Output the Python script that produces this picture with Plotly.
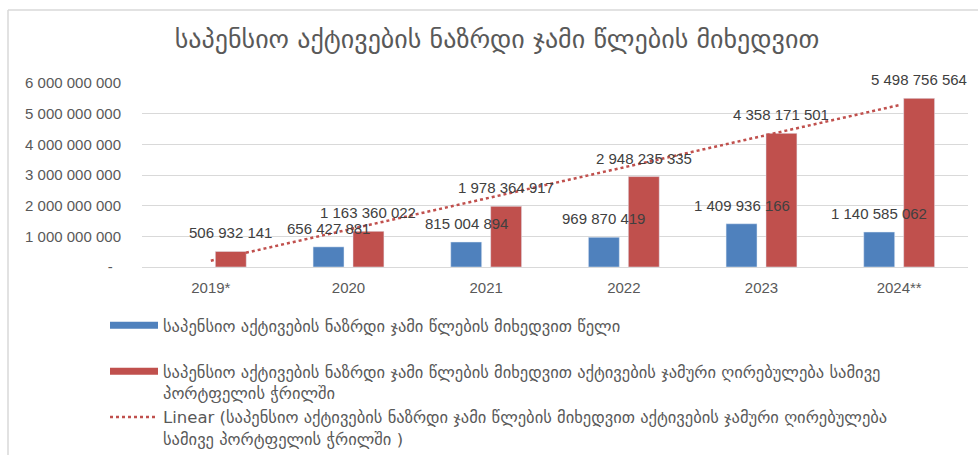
import numpy as np
import plotly.graph_objects as go

categories = ["2019*", "2020", "2021", "2022", "2023", "2024**"]
yearly_growth = [None, 656427881, 815004894, 969870419, 1409936166, 1140585062]
total_value = [506932141, 1163360022, 1978364917, 2948235335, 4358171501, 5498756564]
y_tick_vals = [0, 1e9, 2e9, 3e9, 4e9, 5e9, 6e9]
y_tick_text = ["-\u00a0\u00a0", "1 000 000 000", "2 000 000 000", "3 000 000 000",
               "4 000 000 000", "5 000 000 000", "6 000 000 000"]

title_text = "საპენსიო აქტივების ნაზრდი ჯამი წლების მიხედვით"
name_blue = "საპენსიო აქტივების ნაზრდი ჯამი წლების მიხედვით წელი<br> "
name_red = ("საპენსიო აქტივების ნაზრდი ჯამი წლების მიხედვით აქტივების ჯამური ღირებულება სამივე"
            "<br>პორტფელის ჭრილში")
name_lin = ("Linear (საპენსიო აქტივების ნაზრდი ჯამი წლების მიხედვით აქტივების ჯამური ღირებულება"
            "<br>სამივე პორტფელის ჭრილში )")

BLUE = "#4f81bd"
RED = "#c0504d"
GRAY = "#595959"
FONT = "Liberation Sans, DejaVu Sans, sans-serif"
GEO = "DejaVu Sans, sans-serif"


def fmt(v):
    return f"{int(v):,}".replace(",", " ")


# linear trend of the red series
xi = np.arange(1, len(total_value) + 1)
slope, intercept = np.polyfit(xi, np.array(total_value, dtype=float), 1)
trend = slope * xi + intercept

L, R, T, B = 142, 10, 83, 188
W, H = 978, 455
pw, ph = W - L - R, H - T - B
BARGAP = 0.42
cat_px = pw / len(categories)
half_slot = (1 - BARGAP) / 4 * cat_px


def px_x(p):
    return (p - L) / pw


def px_y(p):
    return (H - B - p) / ph


fig = go.Figure()
fig.add_trace(go.Bar(x=categories, y=yearly_growth, marker_color=BLUE, showlegend=False))
fig.add_trace(go.Bar(x=categories, y=total_value, marker_color=RED, showlegend=False))
fig.add_trace(go.Scatter(
    x=categories, y=trend, mode="lines",
    line=dict(color=RED, width=2.5, dash="dot"), showlegend=False,
))
# legend entries
fig.add_trace(go.Scatter(x=[categories[0]], y=[None], mode="lines", name=name_blue,
                         line=dict(color=BLUE, width=7)))
fig.add_trace(go.Scatter(x=[categories[0]], y=[None], mode="lines", name=name_red,
                         line=dict(color=RED, width=7)))
fig.add_trace(go.Scatter(x=[categories[0]], y=[None], mode="lines", name=name_lin,
                         line=dict(color=RED, width=2.5, dash="dot")))

annotations = []
for series, shift in ((yearly_growth, -half_slot), (total_value, half_slot)):
    for i, v in enumerate(series):
        if v is None:
            continue
        annotations.append(dict(
            x=i, y=v, xref="x", yref="y", text=fmt(v), showarrow=False,
            xanchor="center", yanchor="bottom", xshift=shift, yshift=8,
            font=dict(size=15, color="#404040", family=FONT),
        ))

fig.update_layout(
    width=W, height=H,
    margin=dict(l=L, r=R, t=T, b=B, pad=0, autoexpand=False),
    paper_bgcolor="white", plot_bgcolor="white",
    barmode="group", bargap=BARGAP, bargroupgap=0.225,
    font=dict(family=FONT, color=GRAY, size=15),
    title=dict(text=title_text, x=497 / W, xref="container", xanchor="center",
               y=1 - 39 / H, yref="container", yanchor="middle",
               font=dict(size=26, color=GRAY, family=GEO)),
    legend=dict(orientation="v", x=105 / W, xref="container", xanchor="left",
                y=1 - 308 / H, yref="container", yanchor="top",
                valign="top", itemwidth=48, tracegroupgap=0,
                font=dict(size=16.5, color=GRAY, family=GEO),
                bgcolor="rgba(0,0,0,0)"),
    showlegend=True,
    annotations=annotations,
    xaxis=dict(type="category", categoryorder="array", categoryarray=categories,
               range=[-0.5, len(categories) - 0.5],
               showgrid=False, showline=False, zeroline=False,
               automargin=False, ticks="", ticklabelstandoff=10,
               tickfont=dict(size=15, color=GRAY)),
    yaxis=dict(range=[0, 6e9], tickvals=y_tick_vals, ticktext=y_tick_text,
               showgrid=True, gridcolor="#d9d9d9", gridwidth=1, zeroline=True,
               zerolinecolor="#d9d9d9", zerolinewidth=1, showline=False,
               automargin=False, ticks="", ticklabelstandoff=20,
               tickfont=dict(size=15, color=GRAY)),
    shapes=[
        dict(type="line", xref="paper", yref="paper", x0=px_x(8), x1=px_x(990),
             y0=px_y(10), y1=px_y(10), line=dict(color="#d9d9d9", width=1.5)),
        dict(type="line", xref="paper", yref="paper", x0=px_x(8), x1=px_x(8),
             y0=px_y(10), y1=px_y(470), line=dict(color="#d9d9d9", width=1.5)),
    ],
)

fig.write_html("out.html", config={"displayModeBar": False},
               post_script="document.body.style.margin='0px';document.body.style.overflow='hidden';")
